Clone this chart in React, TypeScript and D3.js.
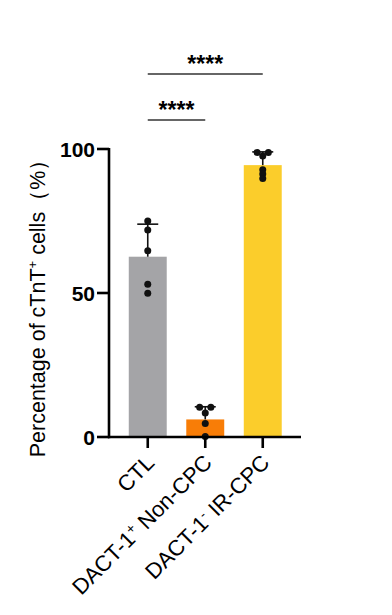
import React from 'react';
import * as d3 from 'd3';

const groups = ['CTL', 'DACT-1+ Non-CPC', 'DACT-1- IR-CPC'];
const means = [62.6, 6.1, 94.4];
const sds = [11.3, 4.4, 4.6];
const points = [
  [75.0, 71.9, 64.7, 53.0, 49.9],
  [10.3, 10.3, 8.3, 4.7, 0.2],
  [98.8, 98.8, 97.6, 92.8, 91.3, 89.8],
];
const colors = ['#a4a4a7', '#f87d07', '#fbcd2b'];
const yTicks = [0, 50, 100];
const comparisons = [
  { from: 0, to: 1, label: '****', level: 0 },
  { from: 0, to: 2, label: '****', level: 1 },
];

const W = 392;
const H = 615;
const font = '"Liberation Sans", Arial, sans-serif';

const App: React.FC = () => {
  const y = d3.scaleLinear().domain([0, 100]).range([437, 149]);
  const x = d3.scaleBand<string>().domain(groups).range([119, 291.5]).paddingInner(0.34).paddingOuter(0.17);
  const cx = (i: number) => (x(groups[i]) as number) + x.bandwidth() / 2;
  const r = 3.5;

  // spread equal values side by side
  const dots = points.flatMap((vals, gi) => {
    const counts = d3.rollup(vals, v => v.length, v => v);
    const seen = new Map<number, number>();
    return vals.map(v => {
      const m = counts.get(v) as number;
      const k = seen.get(v) || 0;
      seen.set(v, k + 1);
      const off = (k - (m - 1) / 2) * r * 3.2;
      return { x: cx(gi) + off, y: y(v), key: `${gi}-${v}-${k}` };
    });
  });

  const labelParts = [
    ['CTL', '', ''],
    ['DACT-1', '+', ' Non-CPC'],
    ['DACT-1', '-', ' IR-CPC'],
  ];

  return (
    <svg width={W} height={H} style={{ position: 'absolute', left: 0, top: 0, background: '#fff' }} fontFamily={font}>
      {/* bars */}
      {groups.map((g, i) => (
        <rect key={g} x={x(g)} y={y(means[i])} width={x.bandwidth()} height={y(0) - y(means[i])} fill={colors[i]} />
      ))}
      {/* error bars (upper SD) */}
      {groups.map((g, i) => (
        <g key={g + 'e'} stroke="#111" strokeWidth={1.6}>
          <line x1={cx(i)} x2={cx(i)} y1={y(means[i])} y2={y(means[i] + sds[i])} />
          <line x1={cx(i) - 10.5} x2={cx(i) + 10.5} y1={y(means[i] + sds[i])} y2={y(means[i] + sds[i])} />
        </g>
      ))}
      {dots.map(d => (
        <circle key={d.key} cx={d.x} cy={d.y} r={r} fill="#111" />
      ))}
      {/* y axis */}
      <line x1={109} x2={109} y1={y(100) - 1} y2={y(0) + 1.3} stroke="#000" strokeWidth={2.6} />
      {yTicks.map(t => (
        <g key={t}>
          <line x1={97} x2={109} y1={y(t)} y2={y(t)} stroke="#000" strokeWidth={2.6} />
          <text x={95} y={y(t)} dy="0.36em" textAnchor="end" fontSize={21} fontWeight="bold">{t}</text>
        </g>
      ))}
      {/* x axis */}
      <line x1={108} x2={301} y1={y(0)} y2={y(0)} stroke="#000" strokeWidth={2.6} />
      {groups.map((g, i) => (
        <line key={g + 't'} x1={cx(i)} x2={cx(i)} y1={y(0)} y2={y(0) + 11} stroke="#000" strokeWidth={2.6} />
      ))}
      {groups.map((g, i) => (
        <text key={g + 'l'} transform={`translate(${cx(i) + 8},${y(0) + 27}) rotate(-45)`} textAnchor="end" fontSize={22}>
          {labelParts[i][0]}
          {labelParts[i][1] && <tspan dy={-8} fontSize={14}>{labelParts[i][1]}</tspan>}
          {labelParts[i][2] && <tspan dy={8}>{labelParts[i][2]}</tspan>}
        </text>
      ))}
      {/* y label */}
      <text transform={`translate(45,${303}) rotate(-90)`} textAnchor="middle" fontSize={21.5}>
        Percentage of cTnT<tspan dy={-8} fontSize={13}>+</tspan><tspan dy={8}> cells（%）</tspan>
      </text>
      {/* significance */}
      {comparisons.map(c => {
        const ly = c.level === 0 ? 120 : 74;
        return (
          <g key={c.level}>
            <line x1={cx(c.from)} x2={cx(c.to)} y1={ly} y2={ly} stroke="#333" strokeWidth={1.5} />
            <text x={(cx(c.from) + cx(c.to)) / 2} y={ly - 2} textAnchor="middle" fontSize={23} fontWeight="bold">{c.label}</text>
          </g>
        );
      })}
    </svg>
  );
};

export default App;
